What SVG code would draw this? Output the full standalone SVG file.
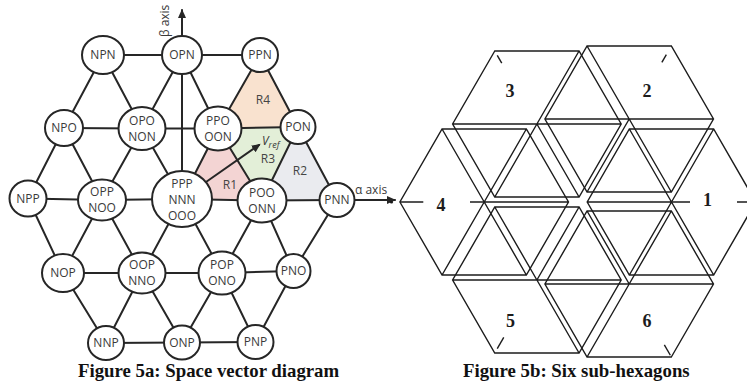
<svg xmlns="http://www.w3.org/2000/svg" xmlns:xlink="http://www.w3.org/1999/xlink" width="747" height="383" viewBox="0 0 747 383">
  <style>
    .edge { stroke: #262626; stroke-width: 2; fill: none; stroke-linecap: round; }
    .node ellipse { fill: #ffffff; stroke: #262626; stroke-width: 2; }
    .node text { font-family: "Open Sans", "Liberation Sans", sans-serif; font-size: 12px; fill: #3a3a3a; text-anchor: middle; }
    .region-label { font-family: "Open Sans", "Liberation Sans", sans-serif; font-size: 12px; fill: #444444; text-anchor: middle; }
    .axis-label { font-family: "Open Sans", "Liberation Sans", sans-serif; font-size: 12px; fill: #3a3a3a; }
    .hexline { stroke: #1c1c1c; stroke-width: 1.4; fill: none; }
    .hexnum { font-family: "Liberation Serif", serif; font-weight: bold; font-size: 18px; fill: #1c1c1c; text-anchor: middle; }
    .caption { font-family: "Liberation Serif", serif; font-weight: bold; font-size: 18.8px; fill: #111111; }
  </style>
  <defs>
    <marker id="axis-arrow" markerWidth="10" markerHeight="8" refX="8" refY="4" orient="auto" markerUnits="userSpaceOnUse">
      <path d="M0,0 L9,4 L0,8 Z" fill="#262626"/>
    </marker>
    <marker id="vref-arrow" markerWidth="10" markerHeight="8" refX="7" refY="4" orient="auto" markerUnits="userSpaceOnUse">
      <path d="M0,0 L9,4 L0,8 Z" fill="#262626"/>
    </marker>
    <!-- one sub-hexagon of side 84.3, centred on the origin; the spoke
         pointing along +x (towards the outer corner) is left out -->
    <path id="subhex" class="hexline"
          d="M84.3,0 L42.15,-73 L-42.15,-73 L-84.3,0 L-42.15,73 L42.15,73 Z
             M0,0 L42.15,-73 M0,0 L-42.15,-73 M0,0 L-84.3,0 M0,0 L-42.15,73 M0,0 L42.15,73"/>
  </defs>

  <!-- ===== Space vector diagram ===== -->
  <g id="regions">
    <polygon points="260,55 218,128.5 298,127" fill="#f9e2cf"/>
    <polygon points="218,128.5 298,127 262,200.5" fill="#e3efd8"/>
    <polygon points="182,199 218,128.5 262,200.5" fill="#f3d4d3"/>
    <polygon points="298,127 262,200.5 337,200" fill="#eaebef"/>
  </g>

  <g id="connectors">
    <!-- row 0 -->
    <line class="edge" x1="103" y1="55" x2="182" y2="55"/>
    <line class="edge" x1="182" y1="55" x2="260" y2="55"/>
    <!-- row 0 to row 1 -->
    <line class="edge" x1="103" y1="55" x2="64" y2="128"/>
    <line class="edge" x1="103" y1="55" x2="142" y2="128.5"/>
    <line class="edge" x1="182" y1="55" x2="142" y2="128.5"/>
    <line class="edge" x1="182" y1="55" x2="218" y2="128.5"/>
    <line class="edge" x1="260" y1="55" x2="218" y2="128.5"/>
    <line class="edge" x1="260" y1="55" x2="298" y2="127"/>
    <!-- row 1 -->
    <line class="edge" x1="64" y1="128" x2="142" y2="128.5"/>
    <line class="edge" x1="142" y1="128.5" x2="218" y2="128.5"/>
    <line class="edge" x1="218" y1="128.5" x2="298" y2="127"/>
    <!-- row 1 to row 2 -->
    <line class="edge" x1="64" y1="128" x2="28" y2="198.5"/>
    <line class="edge" x1="64" y1="128" x2="102" y2="200"/>
    <line class="edge" x1="142" y1="128.5" x2="102" y2="200"/>
    <line class="edge" x1="142" y1="128.5" x2="182" y2="199"/>
    <line class="edge" x1="218" y1="128.5" x2="182" y2="199"/>
    <line class="edge" x1="218" y1="128.5" x2="262" y2="200.5"/>
    <line class="edge" x1="298" y1="127" x2="262" y2="200.5"/>
    <line class="edge" x1="298" y1="127" x2="337" y2="200"/>
    <!-- row 2 -->
    <line class="edge" x1="28" y1="198.5" x2="102" y2="200"/>
    <line class="edge" x1="102" y1="200" x2="182" y2="199"/>
    <line class="edge" x1="182" y1="199" x2="262" y2="200.5"/>
    <line class="edge" x1="262" y1="200.5" x2="337" y2="200"/>
    <!-- row 2 to row 3 -->
    <line class="edge" x1="28" y1="198.5" x2="63" y2="273"/>
    <line class="edge" x1="102" y1="200" x2="63" y2="273"/>
    <line class="edge" x1="102" y1="200" x2="142" y2="273"/>
    <line class="edge" x1="182" y1="199" x2="142" y2="273"/>
    <line class="edge" x1="182" y1="199" x2="222" y2="273"/>
    <line class="edge" x1="262" y1="200.5" x2="222" y2="273"/>
    <line class="edge" x1="262" y1="200.5" x2="293.5" y2="271"/>
    <line class="edge" x1="337" y1="200" x2="293.5" y2="271"/>
    <!-- row 3 -->
    <line class="edge" x1="63" y1="273" x2="142" y2="273"/>
    <line class="edge" x1="142" y1="273" x2="222" y2="273"/>
    <line class="edge" x1="222" y1="273" x2="293.5" y2="271"/>
    <!-- row 3 to row 4 -->
    <line class="edge" x1="63" y1="273" x2="106" y2="343"/>
    <line class="edge" x1="142" y1="273" x2="106" y2="343"/>
    <line class="edge" x1="142" y1="273" x2="182" y2="342.5"/>
    <line class="edge" x1="222" y1="273" x2="182" y2="342.5"/>
    <line class="edge" x1="222" y1="273" x2="255.5" y2="342"/>
    <line class="edge" x1="293.5" y1="271" x2="255.5" y2="342"/>
    <!-- row 4 -->
    <line class="edge" x1="106" y1="343" x2="182" y2="342.5"/>
    <line class="edge" x1="182" y1="342.5" x2="255.5" y2="342"/>
    <!-- axes -->
    <line class="edge" x1="182" y1="199" x2="182" y2="10" marker-end="url(#axis-arrow)"/>
    <line class="edge" x1="337" y1="200" x2="395" y2="200" marker-end="url(#axis-arrow)"/>
  </g>

  <g id="region-labels">
    <text class="region-label" x="263" y="104">R4</text>
    <text class="region-label" x="268" y="163">R3</text>
    <text class="region-label" x="300" y="175">R2</text>
    <text class="region-label" x="230" y="189">R1</text>
  </g>

  <g id="axis-labels">
    <text class="axis-label" transform="translate(169 37) rotate(-90)">β axis</text>
    <text class="axis-label" x="355" y="194">α axis</text>
  </g>

  <g id="vref">
    <line class="edge" x1="206" y1="182" x2="259" y2="145" marker-end="url(#vref-arrow)"/>
    <text class="axis-label" x="262" y="145" font-style="italic" font-size="13">V<tspan font-size="9" dy="3">ref</tspan></text>
  </g>

  <!-- nodes: row 0 -->
  <g id="NPN" class="node"><ellipse cx="103" cy="55" rx="21" ry="19"/><text x="103" y="59.3">NPN</text></g>
  <g id="OPN" class="node"><ellipse cx="182" cy="55" rx="20" ry="19"/><text x="182" y="59.3">OPN</text></g>
  <g id="PPN" class="node"><ellipse cx="260" cy="55" rx="18" ry="17"/><text x="260" y="59.3">PPN</text></g>
  <!-- row 1 -->
  <g id="NPO" class="node"><ellipse cx="64" cy="128" rx="19" ry="18"/><text x="64" y="132.3">NPO</text></g>
  <g id="OPO-NON" class="node"><ellipse cx="142" cy="128.5" rx="23.5" ry="21.5"/><text x="142" y="124.8">OPO</text><text x="142" y="140.8">NON</text></g>
  <g id="PPO-OON" class="node"><ellipse cx="218" cy="128.5" rx="23.5" ry="22"/><text x="218" y="124.8">PPO</text><text x="218" y="140.8">OON</text></g>
  <g id="PON" class="node"><ellipse cx="298" cy="127" rx="17.5" ry="17"/><text x="298" y="131.3">PON</text></g>
  <!-- row 2 -->
  <g id="NPP" class="node"><ellipse cx="28" cy="198.5" rx="18.5" ry="18"/><text x="28" y="202.8">NPP</text></g>
  <g id="OPP-NOO" class="node"><ellipse cx="102" cy="200" rx="24" ry="20.5"/><text x="102" y="196.3">OPP</text><text x="102" y="212.3">NOO</text></g>
  <g id="PPP-NNN-OOO" class="node"><ellipse cx="182" cy="199" rx="30" ry="28"/><text x="182" y="187.8">PPP</text><text x="182" y="203.8">NNN</text><text x="182" y="219.8">OOO</text></g>
  <g id="POO-ONN" class="node"><ellipse cx="262" cy="200.5" rx="24.5" ry="22"/><text x="262" y="196.8">POO</text><text x="262" y="212.8">ONN</text></g>
  <g id="PNN" class="node"><ellipse cx="337" cy="200" rx="17.5" ry="17"/><text x="337" y="204.3">PNN</text></g>
  <!-- row 3 -->
  <g id="NOP" class="node"><ellipse cx="63" cy="273" rx="21" ry="19"/><text x="63" y="277.3">NOP</text></g>
  <g id="OOP-NNO" class="node"><ellipse cx="142" cy="273" rx="23.5" ry="20.5"/><text x="142" y="269.3">OOP</text><text x="142" y="285.3">NNO</text></g>
  <g id="POP-ONO" class="node"><ellipse cx="222" cy="273" rx="23.5" ry="21.5"/><text x="222" y="269.3">POP</text><text x="222" y="285.3">ONO</text></g>
  <g id="PNO" class="node"><ellipse cx="293.5" cy="271" rx="17" ry="17"/><text x="293.5" y="275.3">PNO</text></g>
  <!-- row 4 -->
  <g id="NNP" class="node"><ellipse cx="106" cy="343" rx="18" ry="17"/><text x="106" y="347.3">NNP</text></g>
  <g id="ONP" class="node"><ellipse cx="182" cy="342.5" rx="18" ry="17"/><text x="182" y="346.8">ONP</text></g>
  <g id="PNP" class="node"><ellipse cx="255.5" cy="342" rx="18" ry="17"/><text x="255.5" y="346.3">PNP</text></g>

  <!-- ===== Six sub-hexagons ===== -->
  <g id="hex-1">
    <use xlink:href="#subhex" href="#subhex" transform="translate(671.5 202)"/>
    <path class="hexline" transform="translate(671.5 202)" d="M0,0 L18.5,0 M65.5,0 L84.3,0"/>
    <text class="hexnum" x="707.5" y="206">1</text>
  </g>
  <g id="hex-2">
    <use xlink:href="#subhex" href="#subhex" transform="translate(629.2 119) rotate(-60)"/>
    <path class="hexline" transform="translate(629.2 119) rotate(-60)" d="M74.3,0 L65.3,0"/>
    <text class="hexnum" x="647" y="97">2</text>
  </g>
  <g id="hex-3">
    <use xlink:href="#subhex" href="#subhex" transform="translate(536.9 124) rotate(-120)"/>
    <path class="hexline" transform="translate(536.9 124) rotate(-120)" d="M79.3,0 L70.3,0"/>
    <text class="hexnum" x="510" y="97">3</text>
  </g>
  <g id="hex-4">
    <use xlink:href="#subhex" href="#subhex" transform="translate(484.2 202) rotate(180)"/>
    <path class="hexline" transform="translate(484.2 202) rotate(180)" d="M0,0 L14.2,0 M60.9,0 L84.3,0"/>
    <circle cx="391.5" cy="202" r="1.6" fill="#1c1c1c"/>
    <text class="hexnum" x="441" y="210.5">4</text>
  </g>
  <g id="hex-5">
    <use xlink:href="#subhex" href="#subhex" transform="translate(536.9 280) rotate(120)"/>
    <path class="hexline" transform="translate(536.9 280) rotate(120)" d="M79.3,0 L66.3,0"/>
    <text class="hexnum" x="510.5" y="327">5</text>
  </g>
  <g id="hex-6">
    <use xlink:href="#subhex" href="#subhex" transform="translate(629.2 284) rotate(60)"/>
    <path class="hexline" transform="translate(629.2 284) rotate(60)" d="M82.3,0 L70.3,0"/>
    <text class="hexnum" x="647" y="327">6</text>
  </g>

  <!-- captions -->
  <text class="caption" x="78" y="377">Figure 5a: Space vector diagram</text>
  <text class="caption" x="463" y="377">Figure 5b: Six sub-hexagons</text>
</svg>
